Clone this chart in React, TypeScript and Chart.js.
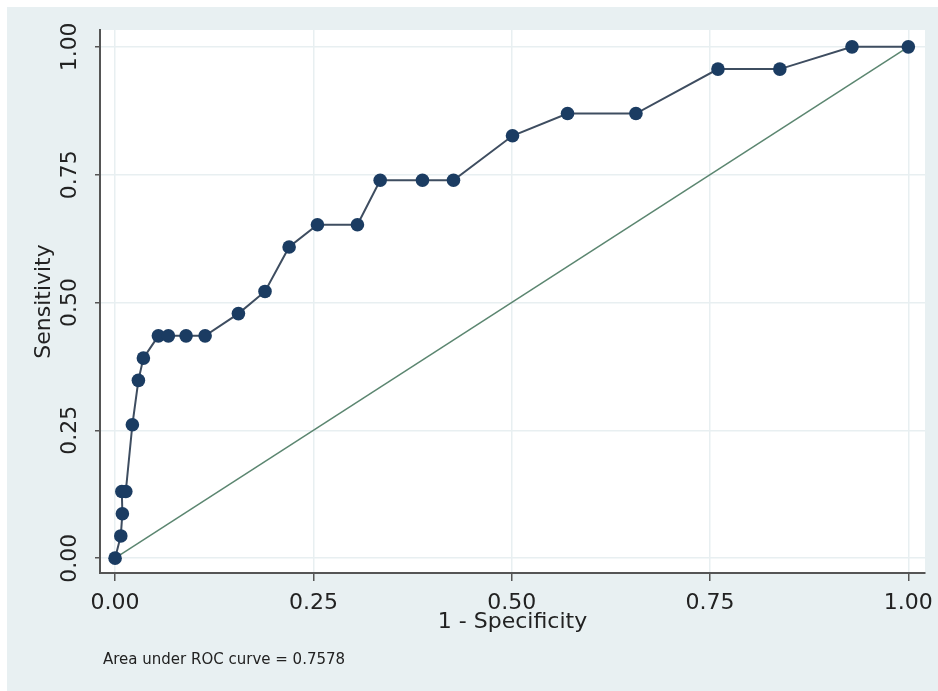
import React, { useEffect, useRef } from "react";
import { Chart, registerables } from "chart.js";

Chart.register(...registerables);

// 1 - Specificity (false positive rate) of each ROC point
const fpr = [0, 0.0072, 0.0092, 0.0085, 0.0135, 0.0218, 0.0294, 0.0357, 0.0546, 0.0672, 0.0895, 0.1135,
  0.1555, 0.189, 0.2194, 0.2551, 0.3055, 0.3342, 0.3875, 0.4266, 0.501, 0.5704, 0.6566, 0.76, 0.838, 0.929, 1.0];
// Sensitivity of each ROC point
const sensitivity = [0, 0.0435, 0.087, 0.1304, 0.1304, 0.2609, 0.3478, 0.3913, 0.4348, 0.4348, 0.4348, 0.4348,
  0.4783, 0.5217, 0.6087, 0.6522, 0.6522, 0.7391, 0.7391, 0.7391, 0.8261, 0.8696, 0.8696, 0.9565, 0.9565, 1.0, 1.0];
// Reference (chance) line
const refX = [0, 1];
const refY = [0, 1];
// Axis tick labels
const xTicks = [0, 0.25, 0.5, 0.75, 1.0];
const yTicks = [0, 0.25, 0.5, 0.75, 1.0];
const xTitle = "1 - Specificity";
const yTitle = "Sensitivity";
const note = "Area under ROC curve = 0.7578";

const FONT = "'DejaVu Sans', sans-serif";

export default function App() {
  const ref = useRef<HTMLCanvasElement | null>(null);

  useEffect(() => {
    if (!ref.current) return;
    const plotBg = {
      id: "plotBg",
      beforeDraw(chart: any) {
        const { ctx, chartArea } = chart;
        ctx.save();
        ctx.fillStyle = "#ffffff";
        ctx.fillRect(chartArea.left, chartArea.top, chartArea.right - chartArea.left, chartArea.bottom - chartArea.top);
        ctx.restore();
      },
    };
    const noteText = {
      id: "noteText",
      afterDraw(chart: any) {
        const { ctx } = chart;
        ctx.save();
        ctx.font = `15px ${FONT}`;
        ctx.fillStyle = "#222222";
        ctx.textBaseline = "middle";
        ctx.textAlign = "left";
        ctx.fillText(note, 96, 653);
        ctx.restore();
      },
    };

    const chart = new Chart(ref.current, {
      type: "scatter",
      data: {
        datasets: [
          {
            data: fpr.map((x, i) => ({ x, y: sensitivity[i] })),
            showLine: true,
            borderColor: "#3e4d60",
            borderWidth: 2,
            pointRadius: 6.8,
            pointBackgroundColor: "#1b3c62",
            pointBorderColor: "#1b3c62",
            pointBorderWidth: 0,
            clip: false as any,
          },
          {
            data: refX.map((x, i) => ({ x, y: refY[i] })),
            showLine: true,
            borderColor: "#5b8670",
            borderWidth: 1.5,
            pointRadius: 0,
          },
        ],
      },
      options: {
        responsive: false,
        animation: false,
        events: [],
        layout: { padding: { top: 23, right: 13, bottom: 48, left: 0 } },
        plugins: { legend: { display: false }, tooltip: { enabled: false } },
        scales: {
          x: {
            type: "linear",
            min: -0.019,
            max: 1.021,
            afterFit(scale: any) {
              scale.height = 70;
              scale.paddingLeft = 0;
              scale.paddingRight = 0;
            },
            afterBuildTicks(scale: any) {
              scale.ticks = xTicks.map((v) => ({ value: v }));
            },
            ticks: {
              padding: 9,
              color: "#222222",
              font: { family: FONT, size: 22 },
              maxRotation: 0,
              minRotation: 0,
              callback: (v: any) => Number(v).toFixed(2),
            },
            grid: {
              color: "#e8eff1",
              lineWidth: 1.5,
              tickColor: "#555555",
              tickLength: 8,
              tickWidth: 1.5,
            },
            border: { display: true, color: "#555555", width: 2 },
            title: {
              display: true,
              text: xTitle,
              color: "#222222",
              font: { family: FONT, size: 22 },
              padding: { top: 0, bottom: 8 },
            },
          },
          y: {
            type: "linear",
            min: -0.029,
            max: 1.033,
            afterFit(scale: any) {
              scale.width = 93;
              scale.paddingTop = 0;
              scale.paddingBottom = 0;
            },
            afterBuildTicks(scale: any) {
              scale.ticks = yTicks.map((v) => ({ value: v }));
            },
            ticks: {
              padding: 0,
              color: "#222222",
              font: { family: FONT, size: 22 },
              minRotation: 90,
              maxRotation: 90,
              crossAlign: "center",
              callback: (v: any) => Number(v).toFixed(2),
            },
            grid: {
              color: "#e8eff1",
              lineWidth: 1.5,
              tickColor: "#555555",
              tickLength: 5,
              tickWidth: 1.5,
            },
            border: { display: true, color: "#555555", width: 2 },
            title: {
              display: true,
              text: yTitle,
              color: "#222222",
              font: { family: FONT, size: 22 },
              padding: { top: 24, bottom: 0 },
            },
          },
        },
      } as any,
      plugins: [plotBg, noteText],
    });
    return () => chart.destroy();
  }, []);

  return (
    <div
      style={{
        position: "fixed",
        left: 7,
        top: 7,
        width: 931,
        height: 684,
        background: "#e8f0f2",
      }}
    >
      <canvas ref={ref} width={931} height={684} style={{ width: 931, height: 684, display: "block" }} />
    </div>
  );
}
